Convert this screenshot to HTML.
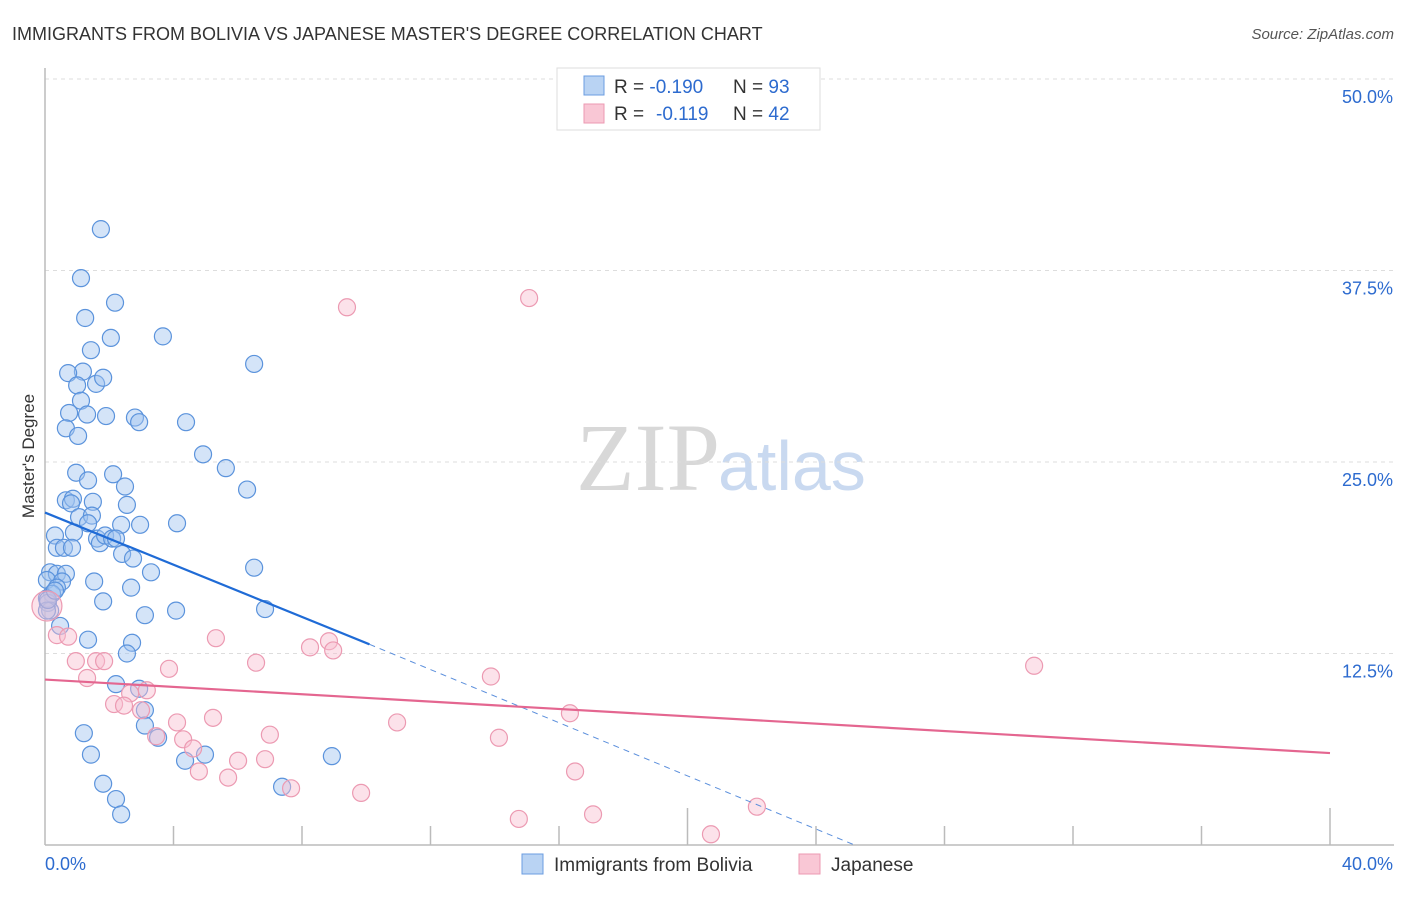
<!DOCTYPE html>
<html><head><meta charset="utf-8"><style>
body{margin:0;background:#fff;font-family:"Liberation Sans",sans-serif}
</style></head><body>
<svg id="chart" width="1406" height="892" xmlns="http://www.w3.org/2000/svg" font-family="Liberation Sans, sans-serif">
<text x="12" y="40" font-size="18" fill="#333">IMMIGRANTS FROM BOLIVIA VS JAPANESE MASTER'S DEGREE CORRELATION CHART</text>
<text x="1394" y="39" font-size="15" fill="#555" font-style="italic" text-anchor="end">Source: ZipAtlas.com</text>
<text x="720" y="490" font-size="96" text-anchor="end" fill="#d8d8d8" font-family="Liberation Serif, serif">ZIP</text>
<text x="718" y="490" font-size="70" fill="#c9d9f0">atlas</text>
<g id="grid"></g><g id="axes"></g><g id="pts"></g><g id="lines"></g>
<text transform="translate(34,456) rotate(-90)" font-size="17" fill="#333" text-anchor="middle">Master's Degree</text>
<g>
<rect x="557" y="68" width="263" height="62" fill="#fff" stroke="#ddd"/>
<rect x="584" y="76" width="20" height="19" fill="#b9d3f3" stroke="#6b9de0"/>
<rect x="584" y="104" width="20" height="19" fill="#f9c7d5" stroke="#ec9ab2"/>
<text x="614" y="93" font-size="19" fill="#333">R = <tspan fill="#2d6bcf">-0.190</tspan><tspan x="733">N = </tspan><tspan fill="#2d6bcf">93</tspan></text>
<text x="614" y="120" font-size="19" fill="#333">R =  <tspan x="656" fill="#2d6bcf">-0.119</tspan><tspan x="733">N = </tspan><tspan fill="#2d6bcf">42</tspan></text>
</g>
<g>
<rect x="522" y="854" width="21" height="20" fill="#b9d3f3" stroke="#6b9de0"/>
<text x="554" y="871" font-size="19" fill="#333">Immigrants from Bolivia</text>
<rect x="799" y="854" width="21" height="20" fill="#f9c7d5" stroke="#ec9ab2"/>
<text x="831" y="871" font-size="19" fill="#333">Japanese</text>
</g>
</svg>
<script>
const yTicks=[12.5,25,37.5,50];
const xTickLabels=["0.0%","40.0%"];
const blueX=[1.74,1.12,2.18,1.25,2.05,3.67,1.43,6.51,1.18,1.59,0.72,1.81,1.0,1.12,0.75,1.31,1.9,2.8,2.93,4.39,0.65,1.03,4.92,5.63,0.97,2.12,1.34,2.49,6.29,0.65,0.87,0.81,1.49,2.55,1.06,1.46,1.34,2.37,2.96,4.11,0.31,0.9,1.62,1.71,1.87,2.09,2.21,0.37,0.59,0.84,2.4,2.74,6.51,3.3,0.16,0.37,0.65,0.06,0.53,1.53,0.37,2.68,0.22,0.06,1.81,0.09,0.16,3.11,4.08,6.85,0.47,1.34,2.71,2.55,2.21,2.93,3.11,3.11,1.21,3.52,1.43,4.36,4.98,8.93,1.81,7.38,2.21,2.37,0.06,0.09,0.31];
const blueY=[40.2,37.0,35.4,34.4,33.1,33.2,32.3,31.4,30.9,30.1,30.8,30.5,30.0,29.0,28.2,28.1,28.0,27.9,27.6,27.6,27.2,26.7,25.5,24.6,24.3,24.2,23.8,23.4,23.2,22.5,22.6,22.3,22.4,22.2,21.4,21.5,21.0,20.9,20.9,21.0,20.2,20.4,20.0,19.7,20.2,20.0,20.0,19.4,19.4,19.4,19.0,18.7,18.1,17.8,17.8,17.7,17.7,17.3,17.2,17.2,16.8,16.8,16.4,16.1,15.9,15.8,15.3,15.0,15.3,15.4,14.3,13.4,13.2,12.5,10.5,10.2,8.8,7.8,7.3,7.0,5.9,5.5,5.9,5.8,4.0,3.8,3.0,2.0,15.3,16.0,16.6];
const pinkX=[9.4,15.07,0.37,0.72,5.32,8.84,8.25,8.97,30.79,0.96,1.59,1.84,3.86,6.57,1.31,13.88,3.17,2.65,2.15,2.46,2.99,5.23,16.34,10.96,4.11,3.46,4.3,7.0,14.13,4.61,6.01,6.85,4.79,16.5,5.7,7.66,9.84,22.16,17.06,14.75,20.73,0.06];
const pinkY=[35.1,35.7,13.7,13.6,13.5,13.3,12.9,12.7,11.7,12.0,12.0,12.0,11.5,11.9,10.9,11.0,10.1,9.9,9.2,9.1,8.8,8.3,8.6,8.0,8.0,7.1,6.9,7.2,7.0,6.3,5.5,5.6,4.8,4.8,4.4,3.7,3.4,2.5,2.0,1.7,0.7,15.6];
const blueTrend=[[0,21.7],[10.1,13.1],[25.2,0]];
const pinkTrend=[[0,10.8],[40,6.0]];
const NS="http://www.w3.org/2000/svg";
const X=v=>45+v*32.125, Y=v=>845-v*15.32;
function mk(tag,attrs,parent){const e=document.createElementNS(NS,tag);for(const k in attrs)e.setAttribute(k,attrs[k]);document.getElementById(parent).appendChild(e);return e;}
yTicks.forEach(t=>{
 const g=mk('line',{x1:45,x2:1394,y1:Y(t),y2:Y(t),stroke:'#ddd','stroke-dasharray':'4,4'},'grid');
 
 
 const l=mk('text',{x:1393,y:Y(t)+24,'font-size':18,fill:'#2d6bcf','text-anchor':'end'},'grid');
 l.textContent=t.toFixed(1)+'%';
 
 
});
const ax=mk('line',{x1:45,x2:1394,y1:845,y2:845,stroke:'#bbb','stroke-width':1.5},'axes');


const ay=mk('line',{x1:45,x2:45,y1:68,y2:845,stroke:'#bbb','stroke-width':1.5},'axes');


for(let i=1;i<=10;i++){const v=i*4;const long=(v%20===0);
 const t=mk('line',{x1:X(v),x2:X(v),y1:long?808:826,y2:845,stroke:'#bbb','stroke-width':1.5},'axes');
 
 }
[[0,'start',45],[1,'end',1393]].forEach(([i,a,x])=>{const t=mk('text',{x:x,y:870,'font-size':18,fill:'#2d6bcf','text-anchor':a},'axes');t.textContent=xTickLabels[i];
 
 });
blueX.forEach((v,i)=>{const c=mk('circle',{cx:X(v),cy:Y(blueY[i]),r:8.5,fill:'rgba(160,196,240,0.45)',stroke:'#5b93dc','stroke-width':1.2},'pts');
 
 });
pinkX.forEach((v,i)=>{const c=mk('circle',{cx:X(v),cy:Y(pinkY[i]),r:i===pinkX.length-1?15:8.5,fill:'rgba(248,190,208,0.45)',stroke:'#ec9ab2','stroke-width':1.2},'pts');
 
 });
const b1=mk('line',{x1:X(blueTrend[0][0]),y1:Y(blueTrend[0][1]),x2:X(blueTrend[1][0]),y2:Y(blueTrend[1][1]),stroke:'#1f6bd6','stroke-width':2.2},'lines');


const b2=mk('line',{x1:X(blueTrend[1][0]),y1:Y(blueTrend[1][1]),x2:X(blueTrend[2][0]),y2:Y(blueTrend[2][1]),stroke:'#5b8fdc','stroke-width':1,'stroke-dasharray':'6,5'},'lines');


const p1=mk('line',{x1:X(pinkTrend[0][0]),y1:Y(pinkTrend[0][1]),x2:X(pinkTrend[1][0]),y2:Y(pinkTrend[1][1]),stroke:'#e46690','stroke-width':2.2},'lines');


</script>
</body></html>
